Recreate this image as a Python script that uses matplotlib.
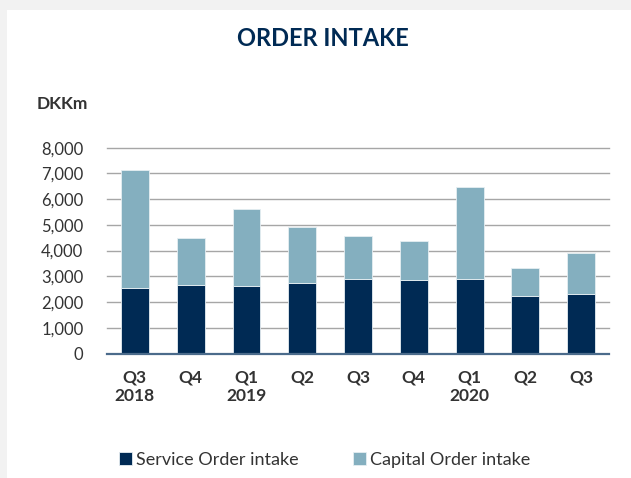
import matplotlib
matplotlib.use("Agg")
import matplotlib.pyplot as plt
from matplotlib.patches import Rectangle

categories = ["Q3\n2018", "Q4", "Q1\n2019", "Q2", "Q3", "Q4", "Q1\n2020", "Q2", "Q3"]
service = [2560, 2650, 2625, 2750, 2910, 2870, 2910, 2225, 2300]
totals = [7130, 4480, 5610, 4920, 4560, 4375, 6490, 3335, 3920]
capital = [t - s for t, s in zip(totals, service)]
yticks = [0, 1000, 2000, 3000, 4000, 5000, 6000, 7000, 8000]

navy = "#002a54"
light = "#84afbf"
txt = "#333333"

plt.rcParams['font.family'] = ['Lato', 'DejaVu Sans']

fig = plt.figure(figsize=(6.31, 4.78), dpi=100)
fig.patch.set_facecolor("#f2f2f2")
fig.patches.append(Rectangle((7/631, 0), 1 - 7/631, 1 - 10/478, transform=fig.transFigure,
                             facecolor="white", edgecolor="none", zorder=-10))

ax = fig.add_axes([107/631, (478-353.5)/478, (609-107)/631, (353.5-147.7)/478])
ax.set_facecolor("none")
x = list(range(len(categories)))
ax.bar(x, service, width=0.5, color=navy, edgecolor="#e6eef2", linewidth=0.6, zorder=3,
       label="Service Order intake")
ax.bar(x, capital, width=0.5, bottom=service, color=light, edgecolor="#e6eef2", linewidth=0.6,
       zorder=3, label="Capital Order intake")

ax.set_xlim(-0.5, len(categories) - 0.5)
ax.set_ylim(0, 8000)
ax.set_yticks(yticks)
ax.set_yticklabels([f"{v:,}" for v in yticks], fontsize=12, color=txt)
ax.set_xticks(x)
ax.set_xticklabels(categories, fontsize=12.5, fontweight="bold", color=txt, linespacing=1.17)
ax.tick_params(axis="both", length=0)
ax.tick_params(axis="y", pad=17)
ax.tick_params(axis="x", pad=11.5)
for s in ["top", "right", "left"]:
    ax.spines[s].set_visible(False)
ax.spines["bottom"].set_color("#4b6b8b")
ax.spines["bottom"].set_linewidth(1.6)
ax.spines["bottom"].set_zorder(4)
for v in yticks[1:]:
    ax.axhline(v, color="#a6a6a6", linewidth=1.0, zorder=1, clip_on=False)

fig.text(323/631, 1 - 39/478, "ORDER INTAKE", ha="center", va="center", fontsize=17,
         fontweight="bold", color=navy)
fig.text(37/631, 1 - 104/478, "DKKm", ha="left", va="center", fontsize=12.5,
         fontweight="bold", color=txt)

leg = fig.legend(loc="center", bbox_to_anchor=(325/631, 1 - 460/478), ncol=2, frameon=False,
                 fontsize=13, handlelength=0.7, handleheight=0.7, handletextpad=0.25,
                 columnspacing=3.0, labelcolor=txt)

fig.savefig("out.png", dpi=100, facecolor=fig.get_facecolor())
